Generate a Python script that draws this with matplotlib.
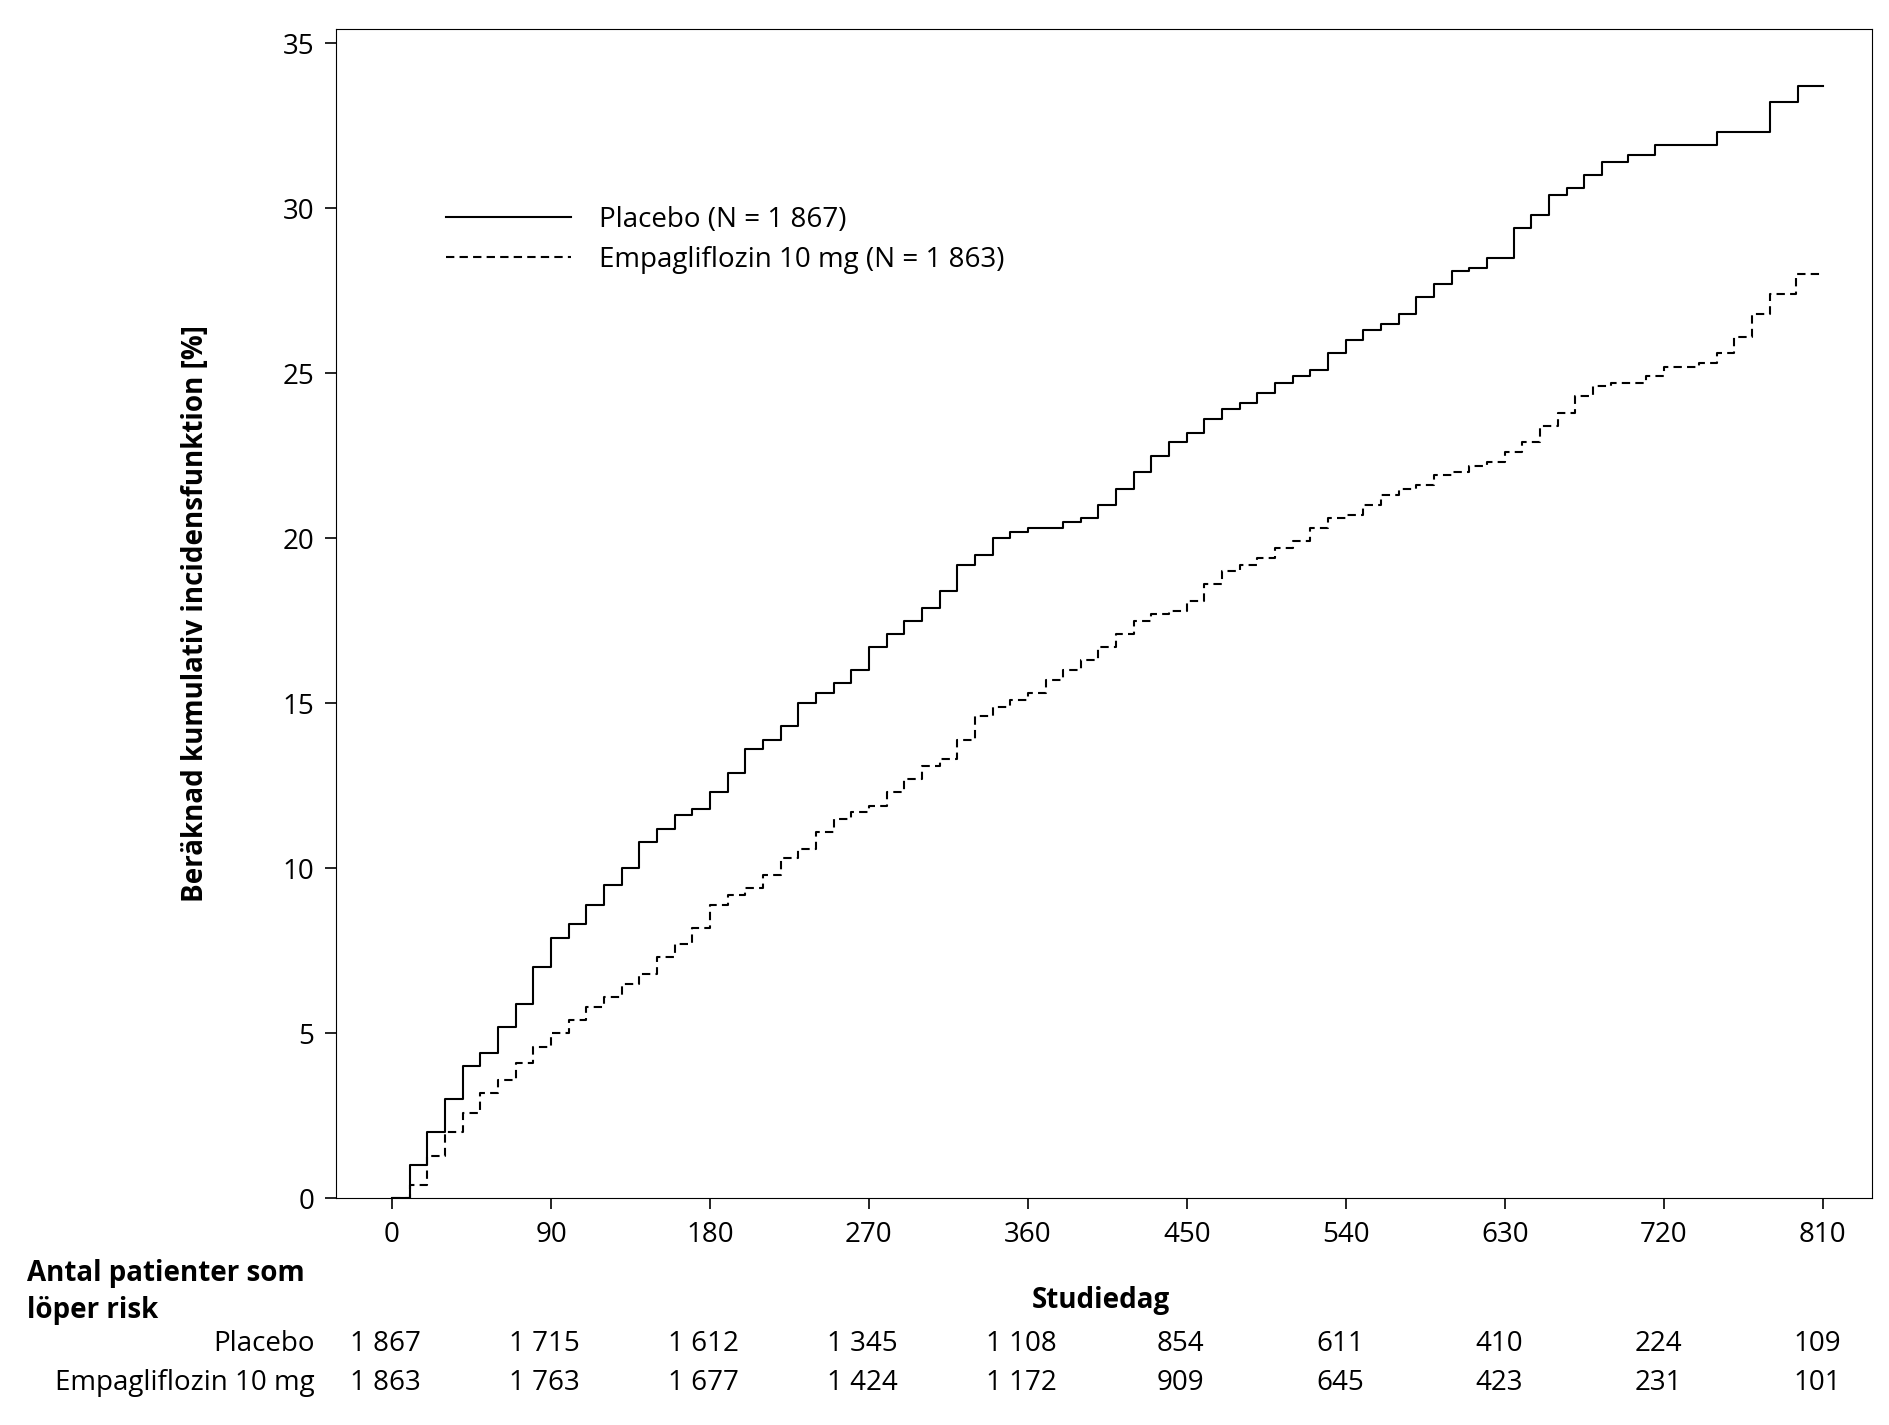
import numpy as np
import matplotlib.pyplot as plt

plt.rcParams['font.family'] = ['Open Sans', 'DejaVu Sans']

# Placebo curve (day, cumulative incidence %)
placebo_day = [0, 10, 20, 30, 40, 50, 60, 70, 80, 90, 100, 110, 120, 130, 140, 150, 160, 170, 180, 190,
               200, 210, 220, 230, 240, 250, 260, 270, 280, 290, 300, 310, 320, 330, 340, 350, 360, 370, 380,
               390, 400, 410, 420, 430, 440, 450, 460, 470, 480, 490, 500, 510, 520, 530, 540, 550, 560, 570,
               580, 590, 600, 610, 620, 635, 645, 655, 665, 675, 685, 700, 715, 750, 780, 796, 810]
placebo_val = [0, 1.0, 2.0, 3.0, 4.0, 4.4, 5.2, 5.9, 7.0, 7.9, 8.3, 8.9, 9.5, 10.0, 10.8, 11.2, 11.6, 11.8, 12.3, 12.9,
               13.6, 13.9, 14.3, 15.0, 15.3, 15.6, 16.0, 16.7, 17.1, 17.5, 17.9, 18.4, 19.2, 19.5, 20.0, 20.2, 20.3, 20.3, 20.5,
               20.6, 21.0, 21.5, 22.0, 22.5, 22.9, 23.2, 23.6, 23.9, 24.1, 24.4, 24.7, 24.9, 25.1, 25.6, 26.0, 26.3, 26.5, 26.8,
               27.3, 27.7, 28.1, 28.2, 28.5, 29.4, 29.8, 30.4, 30.6, 31.0, 31.4, 31.6, 31.9, 32.3, 33.2, 33.7, 33.7]

# Empagliflozin 10 mg curve
empa_day = [0, 10, 20, 30, 40, 50, 60, 70, 80, 90, 100, 110, 120, 130, 140, 150, 160, 170, 180, 190,
            200, 210, 220, 230, 240, 250, 260, 270, 280, 290, 300, 310, 320, 330, 340, 350, 360, 370, 380,
            390, 400, 410, 420, 430, 440, 450, 460, 470, 480, 490, 500, 510, 520, 530, 540, 550, 560, 570,
            580, 590, 600, 610, 620, 630, 640, 650, 660, 670, 680, 690, 710, 720, 740, 750, 760, 770, 780, 795, 810]
empa_val = [0, 0.4, 1.3, 2.0, 2.6, 3.2, 3.6, 4.1, 4.6, 5.0, 5.4, 5.8, 6.1, 6.5, 6.8, 7.3, 7.7, 8.2, 8.9, 9.2,
            9.4, 9.8, 10.3, 10.6, 11.1, 11.5, 11.7, 11.9, 12.3, 12.7, 13.1, 13.3, 13.9, 14.6, 14.9, 15.1, 15.3, 15.7, 16.0,
            16.3, 16.7, 17.1, 17.5, 17.7, 17.8, 18.1, 18.6, 19.0, 19.2, 19.4, 19.7, 19.9, 20.3, 20.6, 20.7, 21.0, 21.3, 21.5,
            21.6, 21.9, 22.0, 22.2, 22.3, 22.6, 22.9, 23.4, 23.8, 24.3, 24.6, 24.7, 24.9, 25.2, 25.3, 25.6, 26.1, 26.8, 27.4, 28.0, 28.0]

ticks = [0, 90, 180, 270, 360, 450, 540, 630, 720, 810]
risk_placebo = ['1 867', '1 715', '1 612', '1 345', '1 108', '854', '611', '410', '224', '109']
risk_empa = ['1 863', '1 763', '1 677', '1 424', '1 172', '909', '645', '423', '231', '101']

fig = plt.figure(figsize=(18.9, 14.25), dpi=100)
ax = fig.add_axes([0.178, 0.159, 0.8125, 0.821])
ax.plot(placebo_day, placebo_val, drawstyle='steps-post', color='black', lw=1.5,
        label='Placebo (N = 1 867)')
ax.plot(empa_day, empa_val, drawstyle='steps-post', color='black', lw=1.5, ls=(0, (4, 2.5)),
        label='Empagliflozin 10 mg (N = 1 863)')
ax.set_xlim(-31.5, 838)
ax.set_ylim(0, 35.44)
ax.set_xticks(ticks)
ax.set_yticks(range(0, 36, 5))
ax.tick_params(labelsize=20, length=8, width=1.2, pad=8)
ax.set_ylabel('Beräknad kumulativ incidensfunktion [%]', fontsize=20, fontweight='bold', labelpad=52)
ax.legend(loc='upper left', bbox_to_anchor=(0.055, 0.87), frameon=False, fontsize=20,
          handlelength=4.5, handletextpad=1.0, labelspacing=0.45)

fig.text(909 / 1560, 1 - 1077 / 1180, 'Studiedag', fontsize=20, fontweight='bold', ha='center', va='center')
fig.text(22 / 1560, 1 - 1070 / 1180, 'Antal patienter som\nlöper risk', fontsize=20, fontweight='bold',
         ha='left', va='center', linespacing=1.35)
fig.text(260 / 1560, 1 - 1113 / 1180, 'Placebo', fontsize=20, ha='right', va='center')
fig.text(260 / 1560, 1 - 1145 / 1180, 'Empagliflozin 10 mg', fontsize=20, ha='right', va='center')
for t, p, e in zip(ticks, risk_placebo, risk_empa):
    xf = (318 + t * 1182 / 810) / 1560
    fig.text(xf, 1 - 1113 / 1180, p, fontsize=20, ha='center', va='center')
    fig.text(xf, 1 - 1145 / 1180, e, fontsize=20, ha='center', va='center')

fig.savefig('out.png')
